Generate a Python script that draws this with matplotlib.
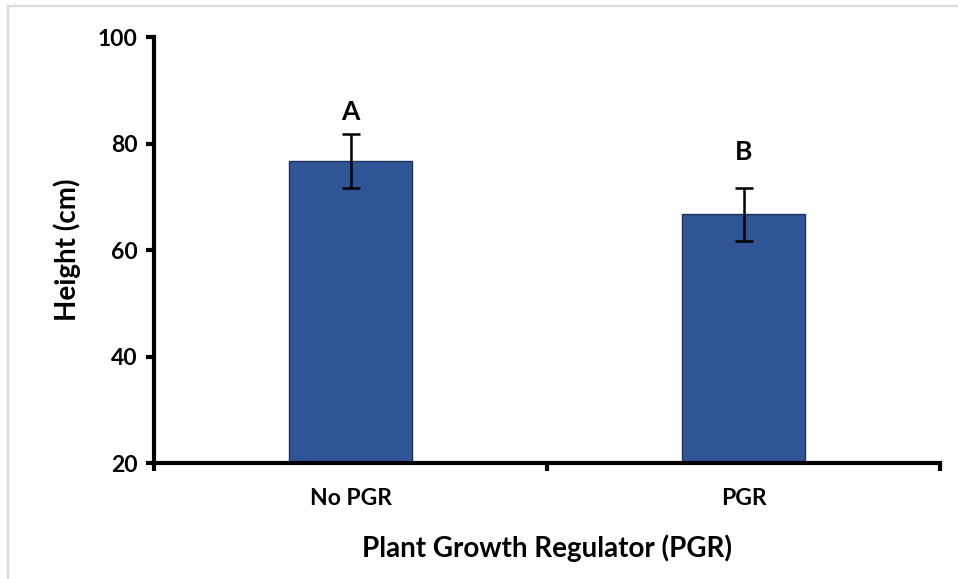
import matplotlib
matplotlib.use("Agg")
import matplotlib.pyplot as plt
from matplotlib.patches import Rectangle

# data
groups = ["No PGR", "PGR"]
heights = [76.7, 66.7]
errors = [5.0, 5.0]
letters = ["A", "B"]
y_ticks = [20, 40, 60, 80, 100]

plt.rcParams["font.family"] = ["Lato", "DejaVu Sans"]
plt.rcParams["font.weight"] = "bold"

fig = plt.figure(figsize=(9.58, 5.79), dpi=100)
ax = fig.add_axes([0.1608, 0.2003, 0.8204, 0.7357])

# light gray frame around the picture
fig.patches.append(Rectangle((8 / 958, -0.1), 1.2, 1 - 6 / 579 + 0.1,
                             transform=fig.transFigure, fill=False,
                             edgecolor="#d9d9d9", linewidth=1.6, zorder=0))

x = list(range(len(groups)))
ax.bar(x, heights, width=0.315, color="#2F5597", edgecolor="#1F3356",
       linewidth=1.0, zorder=2)
ax.errorbar(x, heights, yerr=errors, fmt="none", ecolor="black",
            elinewidth=1.8, capsize=6.5, capthick=1.8, zorder=3)

offsets = [16, 26]
for xi, h, e, lab, off in zip(x, heights, errors, letters, offsets):
    ax.annotate(lab, (xi, h + e), xytext=(0, off), textcoords="offset points",
                ha="center", va="center", fontsize=19, fontweight="bold")

ax.set_xlim(-0.5, 1.5)
ax.set_ylim(20, 100)
ax.set_yticks(y_ticks)
ax.set_xticks(x)
ax.set_xticklabels(groups, fontweight="bold", fontsize=16.5)
ax.set_xticks([-0.5, 0.5, 1.5], minor=True)
ax.tick_params(axis="x", which="major", length=0, pad=18)
ax.tick_params(axis="x", which="minor", length=6, width=3, direction="out")
ax.tick_params(axis="y", length=6, width=3, direction="out", labelsize=16.5, pad=6)
for lbl in ax.get_yticklabels():
    lbl.set_fontweight("bold")

for side in ["top", "right"]:
    ax.spines[side].set_visible(False)
for side in ["left", "bottom"]:
    ax.spines[side].set_linewidth(3)

ax.set_xlabel("Plant Growth Regulator (PGR)", fontsize=20, fontweight="bold", labelpad=18)
ax.set_ylabel("Height (cm)", fontsize=20, fontweight="bold", labelpad=12)

fig.savefig("out.png", dpi=100)
